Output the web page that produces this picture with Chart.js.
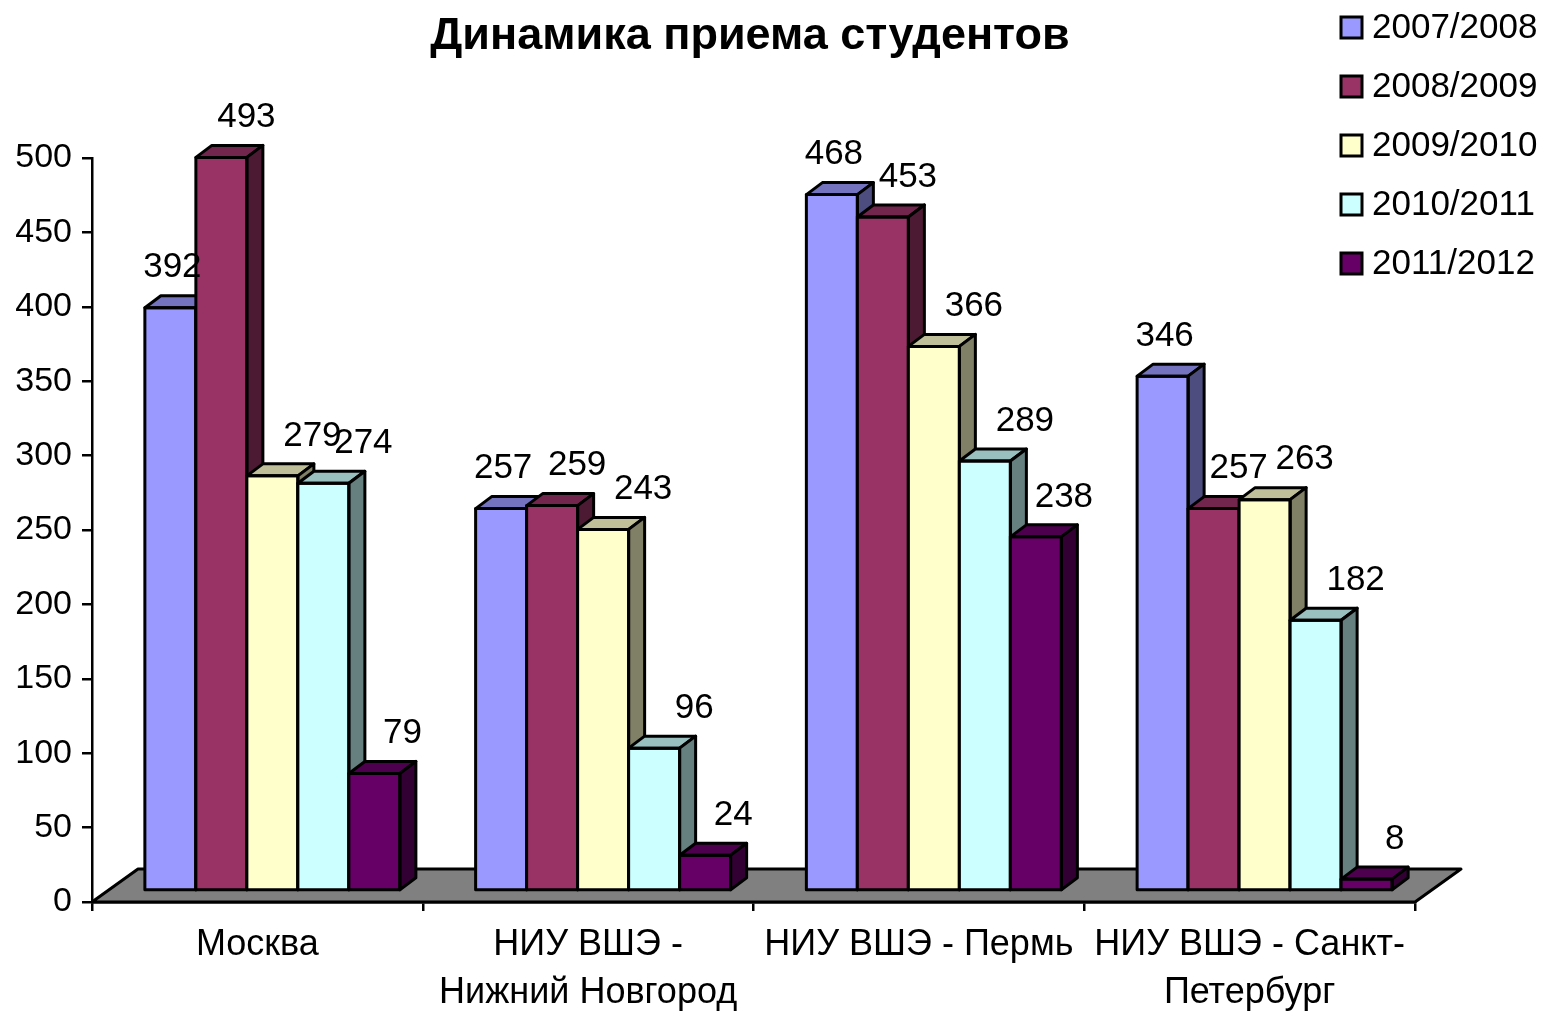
<!DOCTYPE html>
<html>
<head>
<meta charset="utf-8">
<script src="https://cdn.jsdelivr.net/npm/chart.js@4.4.0/dist/chart.umd.min.js"></script>
<style>
html,body{margin:0;padding:0;background:#fff;}
#wrap{width:1544px;height:1013px;position:relative;}
canvas{display:block;}
</style>
</head>
<body>
<div id="wrap"><canvas id="c" width="1544" height="1013"></canvas></div>
<script>
// ---- data ----
const categories = ['Москва', ['НИУ ВШЭ -', 'Нижний Новгород'], 'НИУ ВШЭ - Пермь', ['НИУ ВШЭ - Санкт-', 'Петербург']];
const seriesNames = ['2007/2008', '2008/2009', '2009/2010', '2010/2011', '2011/2012'];
const values2007 = [392, 257, 468, 346];
const values2008 = [493, 259, 453, 257];
const values2009 = [279, 243, 366, 263];
const values2010 = [274, 96, 289, 182];
const values2011 = [79, 24, 238, 8];
const yTickValues = [0, 50, 100, 150, 200, 250, 300, 350, 400, 450, 500];
const titleText = 'Динамика приема студентов';

// ---- styles ----
const seriesColors = ['#9999FF', '#993366', '#FFFFCC', '#CCFFFF', '#660066'];
const labelShiftBySeries = [2, 25, 40, 40, 28]; // horizontal nudge of value labels (px)
const FONT = '"Liberation Sans", Arial, Helvetica, sans-serif';
const DX = 16, DY = -12;          // bar depth
const SHIFT_X = 15, SHIFT_Y = -11; // bar plane behind the front axis
const FLOOR_X = 46, FLOOR_Y = -33; // floor depth
const LW = 3;

Chart.defaults.font.family = FONT;
Chart.defaults.color = '#000';

function shade(hex, f) {
  const n = parseInt(hex.slice(1), 16);
  const r = Math.round(((n >> 16) & 255) * f);
  const g = Math.round(((n >> 8) & 255) * f);
  const b = Math.round((n & 255) * f);
  return `rgb(${r},${g},${b})`;
}
function poly(ctx, pts, fill) {
  ctx.beginPath();
  ctx.moveTo(pts[0][0], pts[0][1]);
  for (let i = 1; i < pts.length; i++) ctx.lineTo(pts[i][0], pts[i][1]);
  ctx.closePath();
  ctx.fillStyle = fill;
  ctx.fill();
  ctx.stroke();
}

const allValues = [values2007, values2008, values2009, values2010, values2011];

const bar3d = {
  id: 'bar3d',
  beforeDatasetsDraw(chart) {
    const { ctx, chartArea } = chart;
    const y0 = chart.scales.y.getPixelForValue(0);
    ctx.save();
    ctx.lineWidth = LW;
    ctx.strokeStyle = '#000';
    ctx.lineJoin = 'round';
    poly(ctx, [
      [chartArea.left, y0], [chartArea.right, y0],
      [chartArea.right + FLOOR_X, y0 + FLOOR_Y], [chartArea.left + FLOOR_X, y0 + FLOOR_Y]
    ], '#808080');
    ctx.restore();
  },
  beforeDatasetDraw() { return false; },
  afterDatasetsDraw(chart) {
    const ctx = chart.ctx;
    ctx.save();
    ctx.translate(SHIFT_X, SHIFT_Y);
    ctx.lineWidth = LW;
    ctx.strokeStyle = '#000';
    ctx.lineJoin = 'round';
    chart.data.datasets.forEach((ds, i) => {
      const meta = chart.getDatasetMeta(i);
      const col = ds.backgroundColor;
      meta.data.forEach(bar => {
        const { x, y, base, width } = bar.getProps(['x', 'y', 'base', 'width'], true);
        const l = x - width / 2, r = x + width / 2;
        bar.draw(ctx);
        poly(ctx, [[l, y], [r, y], [r + DX, y + DY], [l + DX, y + DY]], shade(col, 0.75));
        poly(ctx, [[r, y], [r + DX, y + DY], [r + DX, base + DY], [r, base]], shade(col, 0.5));
        ctx.strokeRect(l, y, width, base - y);
      });
    });
    ctx.restore();

    // value labels
    ctx.save();
    ctx.font = '35px ' + FONT;
    ctx.fillStyle = '#000';
    ctx.textAlign = 'center';
    ctx.textBaseline = 'middle';
    chart.data.datasets.forEach((ds, i) => {
      const meta = chart.getDatasetMeta(i);
      meta.data.forEach((bar, j) => {
        const { x, y } = bar.getProps(['x', 'y'], true);
        ctx.fillText(String(ds.data[j]), x + SHIFT_X + labelShiftBySeries[i], y + SHIFT_Y - 40);
      });
    });
    ctx.restore();
  },
  afterDraw(chart) {
    const ctx = chart.ctx;
    ctx.save();
    ctx.font = '35px ' + FONT;
    ctx.textAlign = 'left';
    ctx.textBaseline = 'middle';
    chart.data.datasets.forEach((ds, i) => {
      const cy = 27.5 + i * 59;
      ctx.fillStyle = ds.backgroundColor;
      ctx.fillRect(1341, cy - 10.5, 21, 21);
      ctx.lineWidth = LW;
      ctx.strokeStyle = '#000';
      ctx.strokeRect(1341, cy - 10.5, 21, 21);
      ctx.fillStyle = '#000';
      ctx.fillText(ds.label, 1372, cy + 1);
    });
    ctx.restore();
  }
};

new Chart(document.getElementById('c'), {
  type: 'bar',
  data: {
    labels: categories,
    datasets: seriesNames.map((name, i) => ({
      label: name,
      data: allValues[i],
      backgroundColor: seriesColors[i],
      borderWidth: 0,
      categoryPercentage: 0.771,
      barPercentage: 1.0,
      clip: false
    }))
  },
  options: {
    responsive: false,
    animation: false,
    devicePixelRatio: 1,
    layout: { padding: { left: 0, right: 44, top: 0, bottom: 0 } },
    plugins: {
      legend: { display: false },
      tooltip: { enabled: false },
      title: {
        display: true,
        text: titleText,
        color: '#000',
        font: { size: 45, weight: 'bold', family: FONT, lineHeight: 1.2 },
        padding: { top: 10, bottom: 94 }
      }
    },
    scales: {
      x: {
        grid: { display: true, drawOnChartArea: false, drawTicks: true, tickLength: 9, color: '#000', lineWidth: 2.5 },
        border: { display: true, color: '#000', width: 2.5 },
        ticks: { color: '#000', font: { size: 36, family: FONT, lineHeight: 1.3333 }, padding: 10, maxRotation: 0, autoSkip: false },
        afterFit(s) { s.height = 111; }
      },
      y: {
        min: 0,
        max: 500,
        afterBuildTicks(s) { s.ticks = yTickValues.map(v => ({ value: v })); },
        grid: { display: true, drawOnChartArea: false, drawTicks: true, tickLength: 10, color: '#000', lineWidth: 2.5 },
        border: { display: true, color: '#000', width: 2.5 },
        ticks: { color: '#000', font: { size: 34, family: FONT }, padding: 10 },
        afterFit(s) { s.width = 92; }
      },
      yR: {
        type: 'linear',
        position: 'right',
        display: true,
        grid: { display: false, drawTicks: false },
        border: { display: false },
        ticks: { display: false },
        afterFit(s) { s.width = 85; }
      }
    }
  },
  plugins: [bar3d]
});
</script>
</body>
</html>
